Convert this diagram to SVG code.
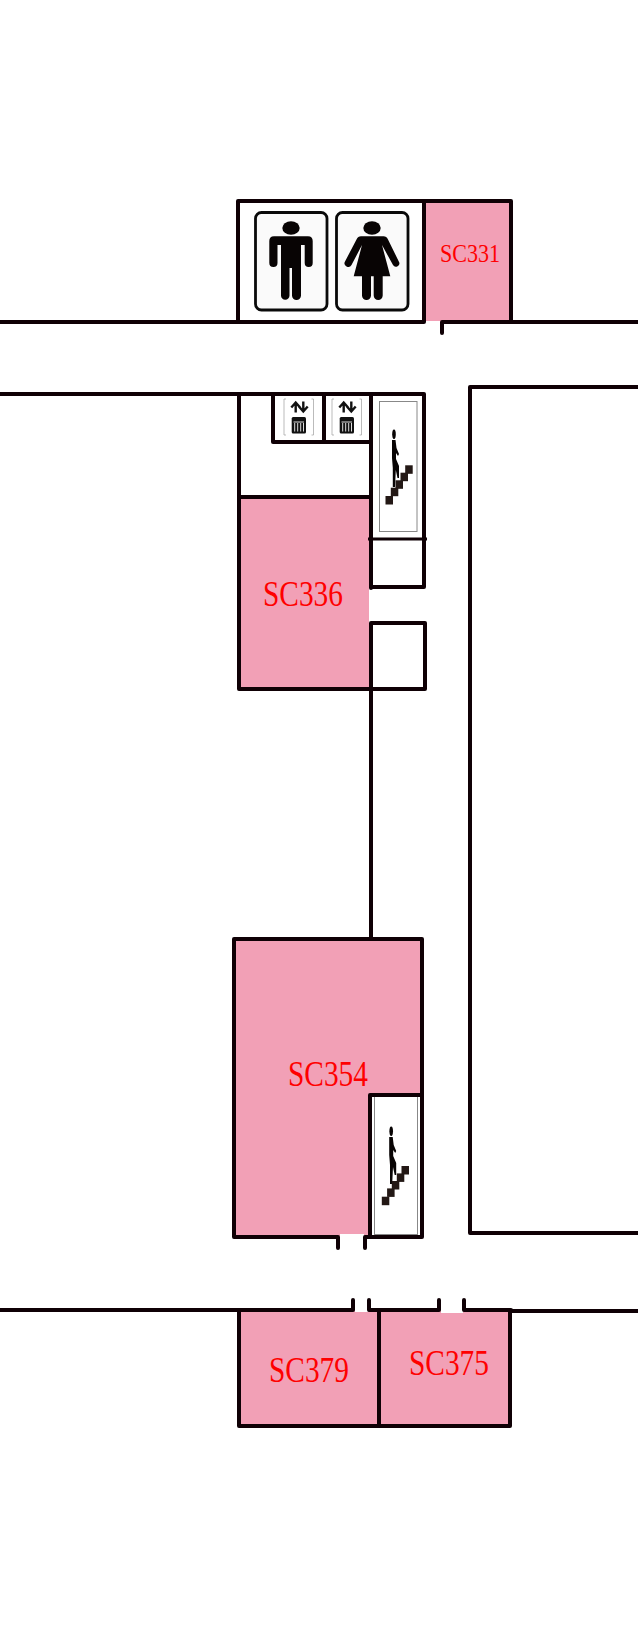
<svg xmlns="http://www.w3.org/2000/svg" width="638" height="1626" viewBox="0 0 638 1626">
<style>
.w{fill:none;stroke:#0f0005;stroke-width:4;stroke-linecap:round;stroke-linejoin:round}
.p{fill:#f2a0b6}
.t{font-family:"Liberation Serif",serif;fill:#f00;text-anchor:middle}
.panel{fill:#fff;stroke:#888;stroke-width:1}
.sign{fill:#fafafa;stroke:#0a0a0a;stroke-width:2.8}
.k{fill:#080404}
.st{fill:#231815}
.br{fill:none;stroke:#aaa;stroke-width:.8}
.ar{fill:none;stroke:#111;stroke-width:2.4}
</style>
<defs>
<g id="stairs"><rect x="385.500" y="496" width="7.500" height="8.500"/><rect x="390.800" y="487.700" width="7.500" height="8.500"/><rect x="395.500" y="480.300" width="7.500" height="8.500"/><rect x="400.500" y="472.700" width="7.500" height="8.500"/><rect x="405.200" y="465.300" width="7.500" height="8.500"/></g>
<g id="person"><ellipse cx="394" cy="434.300" rx="1.800" ry="4.800"/><path d="M392 440H395.500L396.500 448L399 454L398 456L396 453L396 459L399 466L399 478H397.500L395.800 470L395 487H392.800L392.800 468L392 458Z"/></g>
<g id="lift"><path class="br" d="M286 399H284V435H286M311.500 399H313.500V435H311.500"/><path class="ar" d="M295.700 412.500V403M291.300 407.500L295.700 402.500L300.100 407.500M303.300 401.500V411M298.900 406.500L303.300 411.500L307.700 406.500"/><rect x="291.700" y="417" width="14.300" height="16.500" rx="1.500" fill="#111"/><path d="M293.500 422H304M294.700 423V431.500M297.700 423V431.500M300.700 423V431.500M303.500 423V431.500" stroke="#ddd" stroke-width="1" fill="none"/></g>
</defs>
<rect width="638" height="1626" fill="#fff"/>
<g id="SC331"><rect class="p" x="425" y="202" width="85" height="119"/><text class="t" x="470" y="262" font-size="26" textLength="60" lengthAdjust="spacingAndGlyphs">SC331</text></g>
<g id="SC336"><path class="p" d="M239 497H369V689H239Z"/><text class="t" x="303" y="606" font-size="35" textLength="80" lengthAdjust="spacingAndGlyphs">SC336</text></g>
<g id="SC354"><path class="p" d="M234 939H422V1095H369V1236H234Z"/><text class="t" x="328" y="1086" font-size="35" textLength="80" lengthAdjust="spacingAndGlyphs">SC354</text></g>
<g id="SC379"><rect class="p" x="239" y="1310" width="140" height="116"/><text class="t" x="309" y="1382" font-size="35" textLength="80" lengthAdjust="spacingAndGlyphs">SC379</text></g>
<g id="SC375"><rect class="p" x="379" y="1310" width="131" height="116"/><text class="t" x="449" y="1375" font-size="35" textLength="80" lengthAdjust="spacingAndGlyphs">SC375</text></g>
<g id="notches" fill="#fff"><rect x="355" y="1305" width="13" height="7"/><rect x="441" y="1305" width="22" height="8"/><rect x="340" y="1234" width="24" height="4"/></g>
<g id="toilet-male"><rect class="sign" x="255.500" y="212.500" width="71.500" height="97.500" rx="6"/><ellipse class="k" cx="291" cy="228" rx="8.700" ry="6.700"/><path class="k" d="M274 236.300H308Q312.700 236.300 312.700 241V263A3.800 3.800 0 0 1 304.700 263V245H301V295.500A4.500 4.500 0 0 1 292 295.500V268H289.500V295.500A4.200 4.200 0 0 1 281 295.500V245H277.500V263A4 4 0 0 1 269.300 263V241Q269.300 236.300 274 236.300Z"/></g>
<g id="toilet-female"><rect class="sign" x="336.500" y="212.500" width="71.500" height="97.500" rx="6"/><ellipse class="k" cx="372" cy="228" rx="8.700" ry="6.700"/><path class="k" d="M361 236.300H383.500Q386.500 236.300 388 239.500L398.800 261.500A3.200 3.200 0 0 1 393 265L382 245L390.300 276.300H382.700V295.500A4.500 4.500 0 0 1 373.700 295.500V276.300H371V295.500A4.500 4.500 0 0 1 362 295.500V276.300H353.700L362 245L351.500 265A3.200 3.200 0 0 1 345 261.500L356.500 239.500Q358 236.300 361 236.300Z"/></g>
<g id="lift-1"><use href="#lift"/></g>
<g id="lift-2"><use href="#lift" x="48"/></g>
<g id="stair-1"><rect class="panel" x="379.500" y="401.500" width="37.500" height="130"/><use href="#person" class="k"/><use href="#stairs" class="st"/></g>
<g id="stair-2"><rect class="panel" x="374.500" y="1096.500" width="43" height="138"/><use href="#person" class="k" x="-2.800" y="697"/><use href="#stairs" class="st" x="-3.700" y="700.700"/></g>
<g id="walls">
<path class="w" d="M0 322H424M442 333V322H638M238 322V201H511V322M424 201V322"/>
<path class="w" d="M0 394H424V587H371M239 394V689H425V623H371M371 394V588M371 623V939M273 394V442H371M324 394V442M239 497H371"/>
<path class="w" style="stroke-width:3;stroke-linecap:butt" d="M368 539H427"/>
<path class="w" d="M638 387H470V1233H638"/>
<path class="w" d="M422 939H234V1237H338V1248M422 939V1237H365V1248M370 1095H422M370 1095V1237"/>
<path class="w" d="M0 1310H353V1300M369 1300V1310H439V1300M464 1300V1310H511M511 1311H638M239 1310V1426H510V1310M379 1310V1426"/>
</g>
</svg>
